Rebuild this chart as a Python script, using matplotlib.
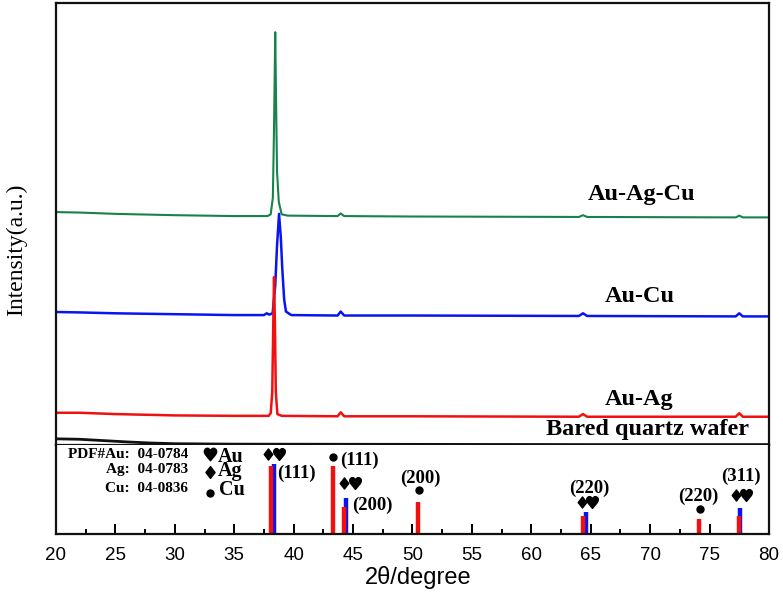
import matplotlib
matplotlib.use("Agg")
import matplotlib.pyplot as plt
from matplotlib.ticker import MultipleLocator

# XRD patterns (2theta, intensity a.u., stacked offsets already included)
green_x = [20, 22, 25, 30, 35, 37.8, 38.07, 38.25, 38.35, 38.45, 38.52, 38.6, 38.75, 38.99, 39.5,
           43.7, 43.96, 44.25, 50, 64.0, 64.35, 64.7, 77.2, 77.5, 77.8, 80]
green_y = [52.7, 52.6, 52.3, 52.0, 51.8, 51.8, 52.2, 56.0, 72.0, 93.4, 78.0, 62.0, 55.0, 52.2, 51.9,
           51.8, 52.4, 51.8, 51.7, 51.6, 52.0, 51.6, 51.5, 51.9, 51.5, 51.5]

blue_x = [20, 22, 25, 30, 35, 37.5, 37.73, 37.95, 38.23, 38.45, 38.6, 38.77, 38.92, 39.04, 39.2, 39.35,
          39.8, 43.7, 43.96, 44.25, 50, 64.0, 64.35, 64.7, 77.2, 77.5, 77.8, 80]
blue_y = [30.1, 30.0, 29.8, 29.6, 29.4, 29.4, 29.8, 29.5, 29.8, 36.0, 45.0, 52.3, 47.0, 40.0, 33.0, 30.2,
          29.4, 29.3, 30.2, 29.3, 29.3, 29.2, 29.8, 29.2, 29.1, 29.8, 29.1, 29.1]

red_x = [20, 22, 25, 30, 35, 37.9, 38.07, 38.2, 38.3, 38.35, 38.42, 38.5, 38.63, 39.0, 43.7, 43.96,
         44.25, 50, 64.0, 64.35, 64.7, 77.2, 77.5, 77.8, 80]
red_y = [7.3, 7.3, 7.0, 6.7, 6.6, 6.6, 7.2, 12.0, 30.0, 38.0, 28.0, 12.0, 7.0, 6.6, 6.5, 7.4,
         6.5, 6.5, 6.4, 7.0, 6.4, 6.4, 7.2, 6.4, 6.4]

black_x = [20, 22, 24, 26, 28, 30, 35, 50, 65, 80]
black_y = [1.4, 1.3, 1.0, 0.7, 0.45, 0.3, 0.2, 0.15, 0.1, 0.1]

# standard PDF reference lines (2theta, relative intensity)
ref_red_x = [38.12, 43.28, 44.25, 50.49, 64.37, 74.14, 77.45]
ref_red_h = [76.4, 76.4, 30.7, 36.3, 20.2, 16.5, 20.6]
ref_blue_x = [38.32, 44.40, 64.60, 77.57]
ref_blue_h = [78.3, 40.4, 25.1, 28.9]

sample_names = ["Au-Ag-Cu", "Au-Cu", "Au-Ag", "Bared quartz wafer"]
sample_label_x = [69.3, 69.1, 69.1, 69.8]
sample_label_y = [56.6, 33.5, 10.2, 3.6]

# peak annotations
hkl_x = [40.2, 45.5, 46.62, 50.63, 64.88, 74.05, 77.62]
hkl_y = [68.2, 82.4, 32.6, 62.6, 51.3, 41.9, 64.4]
hkl_text = ["(111)", "(111)", "(200)", "(200)", "(220)", "(220)", "(311)"]
agau_x = [38.29, 44.69, 64.66, 77.62]
agau_y = [89.9, 57.7, 36.3, 43.8]
cu_x = [43.34, 50.55, 74.19]
cu_y = [86.9, 49.4, 27.7]

serif = ["Liberation Serif", "DejaVu Serif"]
sans = ["Liberation Sans", "DejaVu Sans"]

heart = "$\u2665$"
diamond = "$\u2666$"

fig = plt.figure(figsize=(7.83, 5.94), dpi=100)
ax = fig.add_axes([0.0715, 0.2508, 0.9106, 0.7441])
ax2 = fig.add_axes([0.0715, 0.101, 0.9106, 0.1498], sharex=ax)

ax.plot(green_x, green_y, color="#16834a", lw=1.5)
ax.plot(blue_x, blue_y, color="#0a14f0", lw=1.8)
ax.plot(red_x, red_y, color="#f01010", lw=1.8)
ax.plot(black_x, black_y, color="#111111", lw=2.0)

for name, xx, yy in zip(sample_names, sample_label_x, sample_label_y):
    ax.text(xx, yy, name, ha="center", va="center", fontsize=17.5, fontweight="bold", family=serif)

ax.set_xlim(20, 80)
ax.set_ylim(0, 100)
ax.set_yticks([])
ax.tick_params(axis="x", bottom=False, labelbottom=False)
ax.set_ylabel("Intensity(a.u.)", fontsize=17, family=serif)
ax.yaxis.set_label_coords(-0.041, 0.441)

# reference lines
ax2.vlines(ref_red_x, 0, ref_red_h, color="#f01010", lw=3.2)
ax2.vlines(ref_blue_x, 0, ref_blue_h, color="#0a14f0", lw=3.2, zorder=1)
ax2.set_ylim(0, 100)
ax2.set_yticks([])

# PDF card numbers
ax2.text(31.1, 89.9, "PDF#Au:  04-0784", ha="right", va="center", fontsize=11, fontweight="bold", family=serif)
ax2.text(31.1, 73.0, "Ag:  04-0783", ha="right", va="center", fontsize=11, fontweight="bold", family=serif)
ax2.text(31.1, 50.6, "Cu:  04-0836", ha="right", va="center", fontsize=11, fontweight="bold", family=serif)

# symbol key
ax2.plot([33.0], [89.9], ls="none", marker=heart, ms=9, color="k")
ax2.plot([33.0], [70.0], ls="none", marker=diamond, ms=8.5, color="k")
ax2.plot([33.0], [45.7], ls="none", marker="o", ms=5, color="k")
ax2.text(33.6, 87.0, "Au", ha="left", va="center", fontsize=14.5, fontweight="bold", family=serif)
ax2.text(33.6, 71.0, "Ag", ha="left", va="center", fontsize=14.5, fontweight="bold", family=serif)
ax2.text(33.7, 49.4, "Cu", ha="left", va="center", fontsize=14.5, fontweight="bold", family=serif)

for xx, yy, s in zip(hkl_x, hkl_y, hkl_text):
    ax2.text(xx, yy, s, ha="center", va="center", fontsize=13.5, fontweight="bold", family=serif)
ax2.plot([x - 0.42 for x in agau_x], agau_y, ls="none", marker=diamond, ms=8, color="k")
ax2.plot([x + 0.48 for x in agau_x], agau_y, ls="none", marker=heart, ms=8.5, color="k")
ax2.plot(cu_x, cu_y, ls="none", marker="o", ms=5, color="k")

ax2.xaxis.set_major_locator(MultipleLocator(5))
ax2.xaxis.set_minor_locator(MultipleLocator(2.5))
ax2.tick_params(axis="x", which="major", direction="in", length=7, width=1.4, labelsize=13.5, pad=9)
ax2.tick_params(axis="x", which="minor", direction="in", length=3.5, width=1.4)
for lab in ax2.get_xticklabels():
    lab.set_family(sans)
ax2.set_xlabel("2\u03b8/degree", fontsize=17, family=sans)
ax2.xaxis.set_label_coords(0.508, -0.36)
ax2.spines["top"].set_visible(False)

for a in (ax, ax2):
    for sp in a.spines.values():
        sp.set_linewidth(1.6)
        sp.set_color("#111111")

plt.savefig("out.png", dpi=100)
